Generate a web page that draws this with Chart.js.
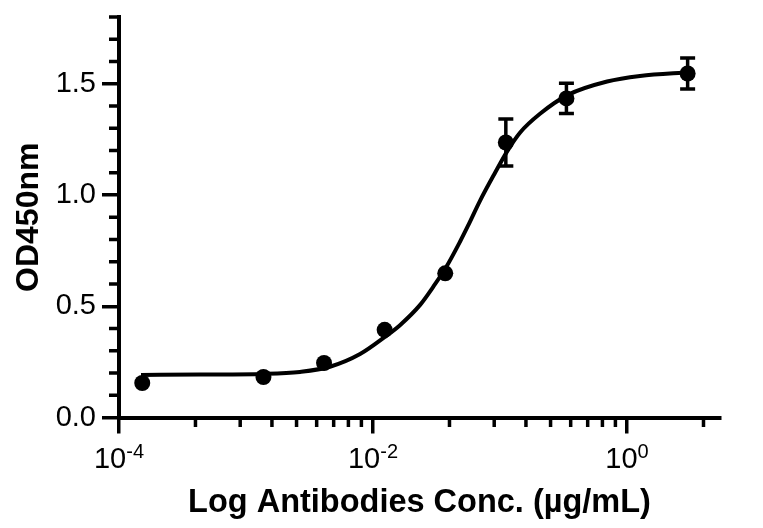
<!DOCTYPE html>
<html>
<head>
<meta charset="utf-8">
<script src="https://cdn.jsdelivr.net/npm/chart.js@4.4.1/dist/chart.umd.min.js"></script>
<style>
  html, body { margin: 0; padding: 0; background: #fff; }
</style>
</head>
<body>
<canvas id="plot" width="763" height="528"></canvas>
<script>
// measured points: concentration (µg/mL), OD450 mean and error
const conc = [0.0001524, 0.001372, 0.004115, 0.01235, 0.03704, 0.1111, 0.3333, 3.0];
const od = [0.155, 0.182, 0.245, 0.394, 0.648, 1.236, 1.434, 1.546];
const err = [0, 0, 0, 0, 0, 0.106, 0.068, 0.070];

// fitted curve
const fitX = [0.000149, 0.000435, 0.00136, 0.00266, 0.00458, 0.00791, 0.0124, 0.0163,
  0.0234, 0.0296, 0.0376, 0.0484, 0.0560, 0.0697, 0.0914, 0.1135, 0.1435, 0.2065,
  0.343, 0.697, 1.265, 3.13];
const fitY = [0.191, 0.193, 0.196, 0.205, 0.228, 0.285, 0.362, 0.415,
  0.505, 0.585, 0.675, 0.790, 0.862, 0.975, 1.100, 1.195, 1.280, 1.365,
  1.450, 1.510, 1.535, 1.552];

// axis ticks
const xMajor = [1e-4, 1e-2, 1];
const xMajorExp = ['-4', '-2', '0'];
const xMinor = [4e-4, 9e-4, 1.6e-3, 2.5e-3, 3.6e-3, 4.9e-3, 6.4e-3, 8.1e-3,
  0.04, 0.09, 0.16, 0.25, 0.36, 0.49, 0.64, 0.81, 4];
const yMajor = [0, 0.5, 1.0, 1.5];
const yMinor = [0.1, 0.2, 0.3, 0.4, 0.6, 0.7, 0.8, 0.9, 1.1, 1.2, 1.3, 1.4, 1.6, 1.7, 1.8];

const FONT = "'Liberation Sans', Arial, sans-serif";
Chart.defaults.font.family = FONT;
Chart.defaults.color = '#000';

const datasets = [];
datasets.push({
  label: 'points',
  type: 'scatter',
  data: conc.map((c, i) => ({x: c, y: od[i]})),
  pointRadius: 8,
  pointHoverRadius: 8,
  backgroundColor: '#000',
  borderWidth: 0
});
conc.forEach((c, i) => {
  if (!err[i]) return;
  datasets.push({
    label: 'err' + i,
    type: 'line',
    data: [{x: c, y: od[i] - err[i]}, {x: c, y: od[i] + err[i]}],
    borderColor: '#000',
    borderWidth: 3.5,
    pointStyle: 'line',
    pointRadius: 7.5,
    pointBorderWidth: 3.5,
    pointBorderColor: '#000'
  });
});
datasets.push({
  label: 'fit',
  type: 'line',
  data: fitX.map((x, i) => ({x: x, y: fitY[i]})),
  borderColor: '#000',
  borderWidth: 4,
  pointRadius: 0,
  cubicInterpolationMode: 'monotone'
});

// minor ticks + superscript x labels
const extras = {
  id: 'extras',
  afterDraw(chart) {
    const c = chart.ctx;
    const xs = chart.scales.x, ys = chart.scales.y;
    const area = chart.chartArea;
    c.save();
    c.strokeStyle = '#000';
    c.lineWidth = 3.5;
    c.beginPath();
    xMinor.forEach(v => {
      const px = xs.getPixelForValue(v);
      c.moveTo(px, area.bottom);
      c.lineTo(px, area.bottom + 9.5);
    });
    yMinor.forEach(v => {
      const py = ys.getPixelForValue(v);
      c.moveTo(area.left - 10, py);
      c.lineTo(area.left, py);
    });
    c.stroke();

    c.fillStyle = '#000';
    c.textBaseline = 'alphabetic';
    c.textAlign = 'left';
    xMajor.forEach((v, i) => {
      const px = xs.getPixelForValue(v);
      c.font = '29px ' + FONT;
      const w1 = c.measureText('10').width;
      c.font = '20px ' + FONT;
      const w2 = c.measureText(xMajorExp[i]).width;
      const x0 = px - (w1 + w2) / 2;
      c.font = '29px ' + FONT;
      c.fillText('10', x0, area.bottom + 50.5);
      c.font = '20px ' + FONT;
      c.fillText(xMajorExp[i], x0 + w1, area.bottom + 40.5);
    });
    c.restore();
  }
};

new Chart(document.getElementById('plot').getContext('2d'), {
  type: 'scatter',
  data: { datasets: datasets },
  options: {
    responsive: false,
    animation: false,
    layout: { padding: { left: 0, top: 17, right: 43, bottom: 0 } },
    plugins: { legend: { display: false }, tooltip: { enabled: false } },
    scales: {
      x: {
        type: 'logarithmic',
        position: 'bottom',
        min: 1e-4,
        max: 5.395,
        afterBuildTicks: s => { s.ticks = xMajor.map(v => ({value: v})); },
        afterFit: s => { s.height = 110.5; s.paddingLeft = 0; s.paddingRight = 0; },
        ticks: { display: false },
        grid: { drawOnChartArea: false, drawTicks: true, tickLength: 16, lineWidth: 3.5, color: '#000' },
        border: { display: true, width: 4, color: '#000' },
        title: {
          display: true,
          text: 'Log Antibodies Conc. (µg/mL)',
          font: { size: 32.5, weight: 'bold' },
          color: '#000',
          padding: { top: 0, bottom: 5 }
        }
      },
      y: {
        type: 'linear',
        min: 0,
        max: 1.8,
        afterBuildTicks: s => { s.ticks = yMajor.map(v => ({value: v})); },
        afterFit: s => { s.width = 119; s.paddingTop = 0; s.paddingBottom = 0; },
        ticks: {
          padding: 6,
          font: { size: 29 },
          color: '#000',
          callback: v => Number(v).toFixed(1)
        },
        grid: { drawOnChartArea: false, drawTicks: true, tickLength: 17, lineWidth: 3.5, color: '#000' },
        border: { display: true, width: 4, color: '#000' },
        title: {
          display: true,
          text: 'OD450nm',
          font: { size: 32, weight: 'bold' },
          color: '#000',
          padding: { top: 10, bottom: 0 }
        }
      }
    }
  },
  plugins: [extras]
});
</script>
</body>
</html>
